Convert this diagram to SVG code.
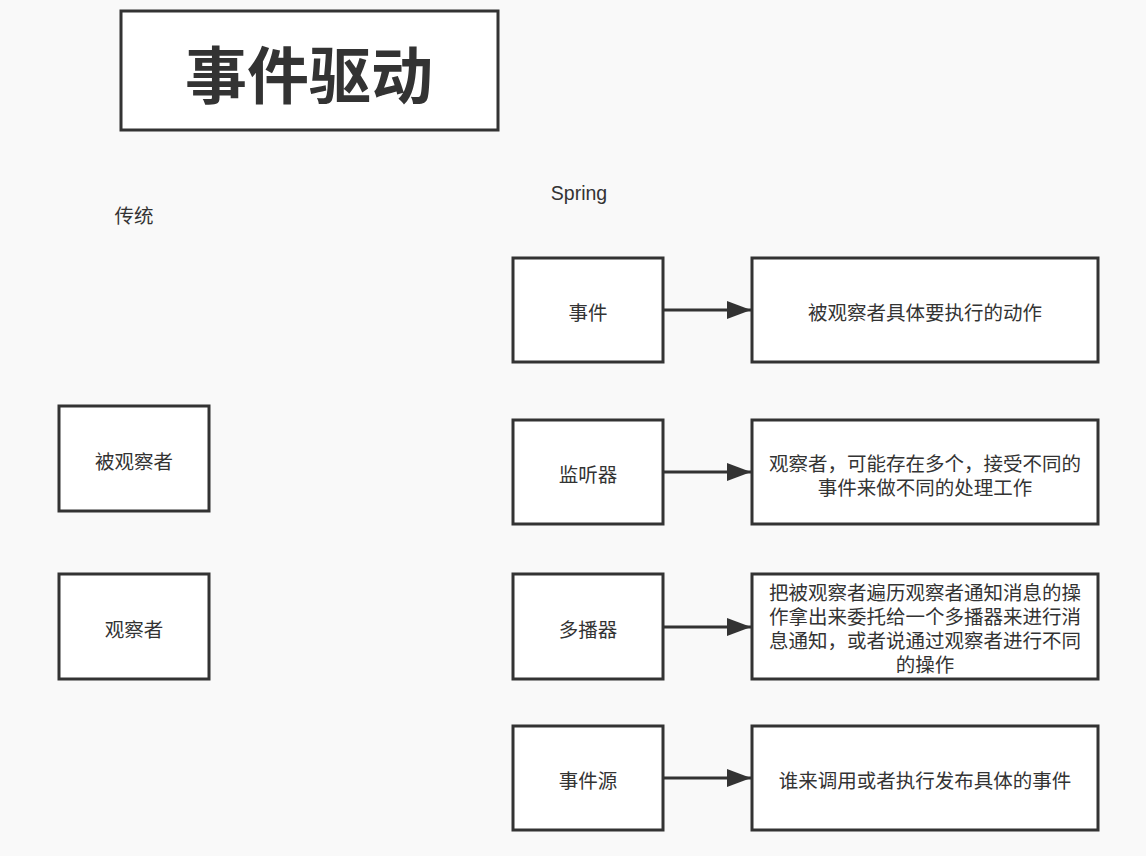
<svg xmlns="http://www.w3.org/2000/svg" width="1146" height="856" viewBox="0 0 1146 856">
<style>
.box{fill:#ffffff;stroke:#333333;stroke-width:3}
.t{font-family:"Noto Sans CJK SC","Liberation Sans",sans-serif;font-size:19.5px;fill:#333333;text-anchor:middle;dominant-baseline:central}
.edge{stroke:#333333;stroke-width:3;fill:none}
</style>
<defs>
<marker id="arr" markerWidth="8" markerHeight="6" refX="8" refY="3" orient="auto" markerUnits="strokeWidth">
<path d="M0,0 L8,3 L0,6 Z" fill="#333333"/>
</marker>
</defs>
<rect x="0" y="0" width="1146" height="856" fill="#f9f9f9"/>
<g id="title">
<rect class="box" x="121" y="11" width="377" height="119"/>
<text x="309" y="72" class="t" style="font-size:62px;font-weight:bold">事件驱动</text>
</g>
<g id="label-traditional"><text class="t" x="134" y="214">传统</text></g>
<g id="label-spring"><text class="t" x="579" y="193" style="font-family:'Liberation Sans','Noto Sans CJK SC',sans-serif">Spring</text></g>
<g id="observed"><rect class="box" x="59" y="406" width="150" height="105"/><text class="t" x="134" y="460">被观察者</text></g>
<g id="observer"><rect class="box" x="59" y="574" width="150" height="105"/><text class="t" x="134" y="628">观察者</text></g>
<g id="event"><rect class="box" x="513" y="258" width="150" height="104"/><text class="t" x="588" y="311">事件</text></g>
<g id="listener"><rect class="box" x="513" y="420" width="150" height="104"/><text class="t" x="588" y="473">监听器</text></g>
<g id="multicaster"><rect class="box" x="513" y="574" width="150" height="105"/><text class="t" x="588" y="628">多播器</text></g>
<g id="source"><rect class="box" x="513" y="726" width="150" height="104"/><text class="t" x="588" y="779">事件源</text></g>
<g id="event-desc"><rect class="box" x="752" y="258" width="346" height="104"/><text class="t" x="925" y="311">被观察者具体要执行的动作</text></g>
<g id="listener-desc"><rect class="box" x="752" y="420" width="346" height="104"/>
<text class="t" x="925" y="462">观察者，可能存在多个，接受不同的</text>
<text class="t" x="925" y="486">事件来做不同的处理工作</text></g>
<g id="multicaster-desc"><rect class="box" x="752" y="574" width="346" height="105"/>
<text class="t" x="925" y="591">把被观察者遍历观察者通知消息的操</text>
<text class="t" x="925" y="615">作拿出来委托给一个多播器来进行消</text>
<text class="t" x="925" y="639">息通知，或者说通过观察者进行不同</text>
<text class="t" x="925" y="663">的操作</text></g>
<g id="source-desc"><rect class="box" x="752" y="726" width="346" height="104"/><text class="t" x="925" y="779">谁来调用或者执行发布具体的事件</text></g>
<g id="connectors">
<line class="edge" x1="664" y1="310" x2="751" y2="310" marker-end="url(#arr)"/>
<line class="edge" x1="664" y1="472" x2="751" y2="472" marker-end="url(#arr)"/>
<line class="edge" x1="664" y1="627" x2="751" y2="627" marker-end="url(#arr)"/>
<line class="edge" x1="664" y1="778" x2="751" y2="778" marker-end="url(#arr)"/>
</g>
</svg>
